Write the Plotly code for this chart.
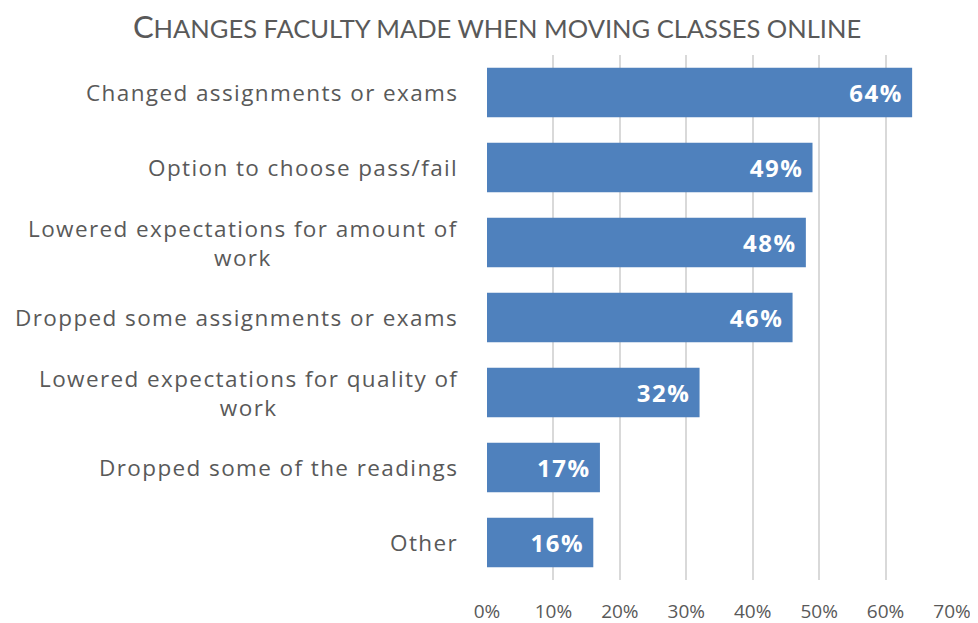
import plotly.graph_objects as go

# veriler
categories = [
    "Changed assignments or exams",
    "Option to choose pass/fail",
    "Lowered expectations for amount of<br>work",
    "Dropped some assignments or exams",
    "Lowered expectations for quality of<br>work",
    "Dropped some of the readings",
    "Other",
]
values = [0.64, 0.49, 0.48, 0.46, 0.32, 0.17, 0.16]
value_labels = ["64%", "49%", "48%", "46%", "32%", "17%", "16%"]
tick_vals = [0, 0.1, 0.2, 0.3, 0.4, 0.5, 0.6, 0.7]
tick_text = ["0%", "10%", "20%", "30%", "40%", "50%", "60%", "70%"]

grey = "#595959"


def spaced(s, px):
    # satir satir harf araligi ekle
    return "<br>".join(
        "<span style='letter-spacing:%spx'>%s</span>" % (px, part)
        for part in s.split("<br>")
    )


fig = go.Figure()

fig.add_trace(go.Bar(
    x=values,
    y=categories,
    orientation="h",
    marker=dict(color="#4F81BD", line=dict(width=0)),
    text=[spaced(v, 1.5) + "\u00a0" for v in value_labels],
    textposition="inside",
    insidetextanchor="end",
    textfont=dict(family="Open Sans", size=24, color="white", weight="bold"),
    hoverinfo="skip",
))

# kategori etiketleri (ortali cok satirli)
for cat in categories:
    fig.add_annotation(
        x=0, y=cat, xref="paper", yref="y",
        text=spaced(cat, 1.4), showarrow=False,
        xanchor="right", yanchor="middle", align="center",
        xshift=-27,
        font=dict(family="Open Sans", size=22.5, color=grey),
    )

# baslik: ilk harf buyuk, gerisi kucuk buyuk harf
title_txt = "Changes faculty made when moving classes online"
title_html = title_txt[0] + "<span style='font-size:25.5px'>" + title_txt[1:].upper() + "</span>"

# sayfa govdesi 8px kaydirdigi icin kenar bosluklari buna gore
fig.update_layout(
    width=978, height=623,
    margin=dict(l=479, r=34, t=47, b=51),
    paper_bgcolor="white",
    plot_bgcolor="white",
    bargap=0.34,
    showlegend=False,
    title=dict(
        text=title_html,
        x=489 / 978, xanchor="center", xref="container",
        y=1 - 19 / 623, yanchor="middle",
        font=dict(family="Lato", size=31, color=grey),
    ),
    xaxis=dict(
        range=[0, 0.7],
        tickvals=tick_vals,
        ticktext=tick_text,
        showgrid=True,
        gridcolor="#d9d9d9",
        gridwidth=2,
        zeroline=False,
        showline=False,
        ticks="",
        automargin=False,
        ticklabelstandoff=18,
        tickfont=dict(family="Open Sans", size=19, color=grey),
    ),
    yaxis=dict(
        autorange="reversed",
        showticklabels=False,
        showgrid=False,
        zeroline=False,
        showline=False,
        automargin=False,
    ),
)

fig.write_html("out.html")
